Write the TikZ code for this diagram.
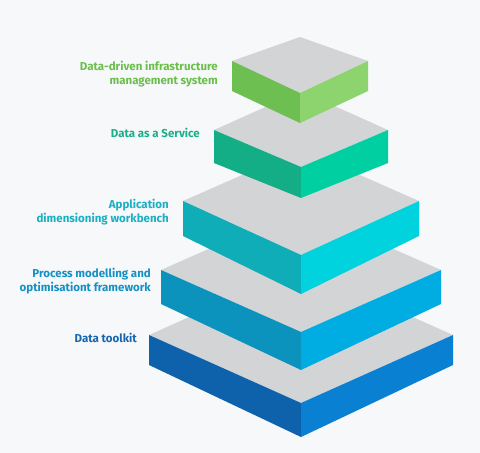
\documentclass[tikz,border=0pt]{standalone}
\usepackage{fontspec}
\setmainfont{Fira Sans}
\definecolor{bg}{HTML}{F7F8FA}
\definecolor{topgray}{HTML}{D3D4D6}
\definecolor{gAL}{HTML}{6CBF50}\definecolor{gAR}{HTML}{8DD46E}
\definecolor{gBL}{HTML}{13AE86}\definecolor{gBR}{HTML}{00CFA2}
\definecolor{gCL}{HTML}{0EADB8}\definecolor{gCR}{HTML}{00D2DE}
\definecolor{gDL}{HTML}{0B93BE}\definecolor{gDR}{HTML}{00ADE2}
\definecolor{gEL}{HTML}{0E62AC}\definecolor{gER}{HTML}{0A80D2}
\definecolor{tA}{HTML}{6ABF4B}
\definecolor{tB}{HTML}{19AF88}
\definecolor{tC}{HTML}{1AAFC2}
\definecolor{tD}{HTML}{1590C4}
\definecolor{tE}{HTML}{1666B0}
% #1 cx, #2 half width, #3 side y, #4 front dy, #5 back dy, #6 side thickness, #7 front thickness, #8 left colour, #9 right colour
\newcommand\layerbox[9]{%
  \fill[topgray] (#1-#2,#3) -- (#1,#3-#5) -- (#1+#2,#3) -- (#1,#3+#4) -- cycle;
  \fill[#8] (#1-#2,#3) -- (#1,#3+#4) -- (#1,#3+#4+#7) -- (#1-#2,#3+#6) -- cycle;
  \fill[#9] (#1+#2,#3) -- (#1,#3+#4) -- (#1,#3+#4+#7) -- (#1+#2,#3+#6) -- cycle;
}
\tikzset{lbl/.style={anchor=east,align=right,font=\fontsize{11.5}{14}\selectfont\bfseries,inner sep=0pt}}
\begin{document}
\begin{tikzpicture}[x=1pt,y=-1pt]
\fill[bg] (0,0) rectangle (480,453);
\useasboundingbox (0,0) rectangle (480,453);
\layerbox{301}{152}{335}{68}{68}{30}{34}{gEL}{gER}
\layerbox{301}{140}{270}{62}{62}{34}{38}{gDL}{gDR}
\layerbox{301}{118}{201}{54}{52}{35}{39}{gCL}{gCR}
\layerbox{301}{87}{130}{37}{39}{33}{31}{gBL}{gBR}
\layerbox{300}{68}{61}{32}{24}{30}{30}{gAL}{gAR}
\node[lbl,text=tA] (l1) at (218,74) {Data-driven infrastructure\\management system};
\node[lbl,text=tB] (l2) at (200,133) {Data as a Service};
\node[lbl,text=tC] (l3) at (169,212.5) {Application\\dimensioning workbench};
\node[lbl,text=tD] (l4) at (151,281) {Process modelling and\\optimisationt framework};
\node[lbl,text=tE] (l5) at (137,338) {Data toolkit};
\end{tikzpicture}
\end{document}
